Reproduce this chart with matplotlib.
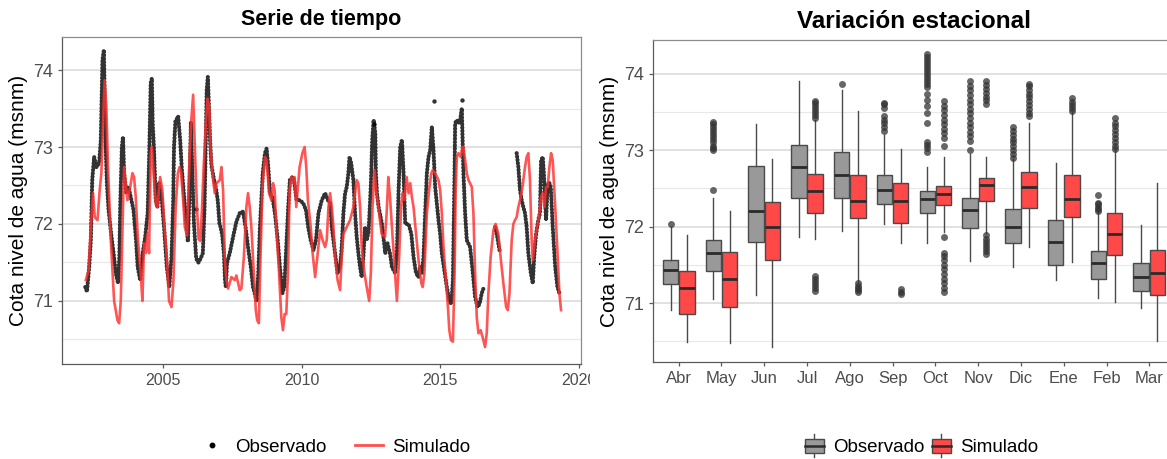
import numpy as np
import matplotlib
matplotlib.use("Agg")
import matplotlib.pyplot as plt
from matplotlib.lines import Line2D
from matplotlib.patches import Rectangle
from matplotlib.legend_handler import HandlerBase

plt.rcParams['font.family'] = ['Liberation Sans', 'DejaVu Sans']

# ---------------- Time series data (decimal years) ----------------
obs_year = [2002.20, 2002.26, 2002.34, 2002.40, 2002.45, 2002.52, 2002.60, 2002.70, 2002.76, 2002.82,
            2002.87, 2002.91, 2002.94, 2002.98, 2003.04, 2003.13, 2003.22, 2003.30, 2003.38, 2003.43,
            2003.46, 2003.52, 2003.56, 2003.60, 2003.68, 2003.76, 2003.84, 2003.94, 2004.03, 2004.09,
            2004.18, 2004.27, 2004.36, 2004.45, 2004.51, 2004.56, 2004.60, 2004.63, 2004.68, 2004.74,
            2004.80, 2004.87, 2004.96, 2005.04, 2005.14, 2005.23, 2005.31, 2005.37, 2005.40, 2005.45,
            2005.55, 2005.62, 2005.68, 2005.80, 2005.90, 2005.95, 2006.01, 2006.06, 2006.12, 2006.20,
            2006.28, 2006.36, 2006.44, 2006.50, 2006.55, 2006.58, 2006.62, 2006.66, 2006.70, 2006.75,
            2006.83, 2006.92, 2006.98, 2007.04, 2007.08, 2007.14, 2007.20, 2007.24, 2007.27, 2007.31,
            2007.41, 2007.53, 2007.65, 2007.77, 2007.89, 2007.98, 2008.07, 2008.17, 2008.25, 2008.38,
            2008.44, 2008.50, 2008.60, 2008.68, 2008.74, 2008.80, 2008.86, 2008.95, 2009.04, 2009.13,
            2009.22, 2009.31, 2009.38, 2009.46, 2009.52, 2009.58, 2009.67, 2009.73, 2009.82, 2009.94,
            2010.06, 2010.16, 2010.24, 2010.33, 2010.43, 2010.52, 2010.61, 2010.73, 2010.85, 2010.95,
            2011.03, 2011.09, 2011.21, 2011.30, 2011.39, 2011.45, 2011.51, 2011.57, 2011.63, 2011.69,
            2011.73, 2011.79, 2011.87, 2011.93, 2011.99, 2012.05, 2012.11, 2012.17, 2012.23, 2012.29,
            2012.35, 2012.42, 2012.50, 2012.55, 2012.60, 2012.66, 2012.68, 2012.72, 2012.78, 2012.90,
            2013.02, 2013.10, 2013.20, 2013.26, 2013.38, 2013.44, 2013.50, 2013.56, 2013.62, 2013.68,
            2013.74, 2013.86, 2013.96, 2014.04, 2014.13, 2014.22, 2014.28, 2014.34, 2014.40, 2014.46,
            2014.52, 2014.58, 2014.64, 2014.70, 2014.76, 2014.82, 2014.94, 2015.00, 2015.06, 2015.15,
            2015.24, 2015.33, 2015.40, 2015.46, 2015.52, 2015.54, 2015.60, 2015.66, 2015.72, 2015.78,
            2015.84, 2015.90, 2015.96, 2016.08, 2016.18, 2016.26, 2016.35, 2016.42, 2016.50, 2016.58,
            2016.70,
            2016.98, 2017.05, 2017.16,
            2017.40,
            2017.76, 2017.82, 2017.88, 2017.94, 2018.00, 2018.06, 2018.12, 2018.18, 2018.27, 2018.34,
            2018.39, 2018.46, 2018.54, 2018.60, 2018.64, 2018.70, 2018.74, 2018.82, 2018.88, 2018.94,
            2018.99, 2019.06, 2019.15, 2019.23, 2019.30]
obs_val = [71.18, 71.12, 71.44, 71.79, 72.57, 72.87, 72.74, 72.79, 73.09, 74.13,
           74.26, 73.40, 72.95, 72.53, 72.18, 71.88, 71.62, 71.36, 71.23, 71.57,
           72.22, 73.00, 73.13, 72.66, 72.40, 72.48, 72.35, 72.18, 71.79, 71.44,
           71.27, 71.62, 71.83, 72.14, 72.96, 73.83, 73.89, 73.31, 72.96, 72.31,
           72.22, 72.53, 72.31, 71.96, 71.44, 71.18, 71.57, 72.27, 73.00, 73.33,
           73.40, 73.10, 72.72, 72.20, 71.77, 72.30, 73.33, 72.70, 72.00, 71.55,
           71.50, 71.55, 71.62, 72.20, 73.20, 73.74, 73.91, 73.52, 73.09, 72.76,
           72.60, 72.45, 72.30, 72.00, 71.96, 71.85, 71.62, 71.27, 71.18, 71.49,
           71.62, 71.83, 72.03, 72.14, 72.16, 71.96, 71.70, 71.44, 71.18, 71.00,
           71.36, 71.96, 72.66, 72.92, 72.98, 72.74, 72.40, 72.35, 72.14, 71.83,
           71.44, 71.10, 71.18, 71.79, 72.22, 72.57, 72.61, 72.57, 72.31, 72.31,
           72.27, 72.18, 71.96, 71.79, 71.66, 71.79, 72.14, 72.31, 72.40, 72.31,
           72.27, 71.96, 71.62, 71.36, 71.44, 71.70, 72.14, 72.40, 72.48, 72.66,
           72.87, 72.79, 72.57, 72.14, 71.83, 71.62, 71.44, 71.31, 71.57, 71.96,
           71.79, 71.90, 72.50, 73.09, 73.35, 73.18, 72.66, 72.40, 72.22, 72.00,
           71.62, 71.75, 71.60, 71.44, 71.36, 71.62, 72.44, 73.00, 73.09, 72.66,
           72.00, 72.00, 71.87, 71.57, 71.36, 71.31, 71.44, 71.36, 71.57, 72.14,
           72.66, 72.87, 72.96, 73.26, 72.96, 72.48, 72.05, 71.87, 71.62, 71.40,
           71.18, 71.00, 70.96, 71.27, 72.66, 73.31, 73.35, 73.31, 73.35, 73.50,
           72.66, 72.14, 71.79, 71.70, 71.36, 71.05, 70.92, 70.96, 71.10, 71.18,
           np.nan,
           71.96, 71.85, 71.62,
           np.nan,
           72.92, 72.74, 72.44, 72.31, 72.22, 72.14, 71.96, 71.62, 71.36, 71.23,
           71.57, 71.87, 72.05, 72.14, 72.83, 72.87, 72.66, 72.05, 72.53, 72.53,
           72.48, 71.96, 71.44, 71.18, 71.10]

# isolated observed readings
obs_extra_year = [2014.78, 2015.80, 2006.20, 2012.62]
obs_extra_val = [73.60, 73.61, 72.20, 73.30]

sim_year = [2002.22, 2002.32, 2002.40, 2002.48, 2002.54, 2002.64, 2002.72, 2002.78, 2002.86, 2002.90,
            2002.96, 2003.02, 2003.12, 2003.24, 2003.36, 2003.42, 2003.48, 2003.56, 2003.60, 2003.66,
            2003.72, 2003.82, 2003.90, 2003.96, 2004.02, 2004.10, 2004.20, 2004.26, 2004.32, 2004.38,
            2004.44, 2004.50, 2004.56, 2004.60, 2004.68, 2004.74, 2004.80, 2004.90, 2004.98, 2005.04,
            2005.14, 2005.22, 2005.31, 2005.38, 2005.46, 2005.54, 2005.60, 2005.66, 2005.73, 2005.79,
            2005.87, 2005.96, 2006.02, 2006.09, 2006.16, 2006.23, 2006.29, 2006.35, 2006.41, 2006.47,
            2006.55, 2006.61, 2006.67, 2006.72, 2006.81, 2006.87, 2006.93, 2007.05, 2007.11, 2007.17,
            2007.23, 2007.29, 2007.35, 2007.47, 2007.59, 2007.65, 2007.77, 2007.83, 2007.92, 2008.01,
            2008.07, 2008.13, 2008.19, 2008.28, 2008.35, 2008.40, 2008.46, 2008.52, 2008.59, 2008.68,
            2008.74, 2008.83, 2008.91, 2008.97, 2009.03, 2009.09, 2009.19, 2009.27, 2009.33, 2009.39,
            2009.45, 2009.51, 2009.57, 2009.63, 2009.69, 2009.75, 2009.81, 2009.93, 2010.03, 2010.11,
            2010.17, 2010.23, 2010.33, 2010.40, 2010.49, 2010.57, 2010.67, 2010.76, 2010.85, 2010.91,
            2010.97, 2011.03, 2011.09, 2011.15, 2011.21, 2011.30, 2011.39, 2011.45, 2011.51, 2011.63,
            2011.75, 2011.87, 2011.99, 2012.05, 2012.11, 2012.17, 2012.27, 2012.35, 2012.44, 2012.50,
            2012.56, 2012.63, 2012.69, 2012.77, 2012.89, 2013.01, 2013.07, 2013.13, 2013.19, 2013.26,
            2013.34, 2013.44, 2013.52, 2013.59, 2013.64, 2013.71, 2013.79, 2013.86, 2013.92, 2013.98,
            2014.04, 2014.13, 2014.22, 2014.32, 2014.37, 2014.43, 2014.52, 2014.60, 2014.68, 2014.73,
            2014.82, 2014.94, 2015.00, 2015.06, 2015.12, 2015.21, 2015.28, 2015.33, 2015.39, 2015.46,
            2015.52, 2015.56, 2015.60, 2015.66, 2015.74, 2015.80, 2015.84, 2015.90, 2015.96, 2016.02,
            2016.08, 2016.14, 2016.20, 2016.26, 2016.32, 2016.38, 2016.46, 2016.53, 2016.62, 2016.68,
            2016.74, 2016.82, 2016.92, 2017.00, 2017.10, 2017.18, 2017.28, 2017.38, 2017.44, 2017.50,
            2017.58, 2017.64, 2017.70, 2017.76, 2017.82, 2017.88, 2017.97, 2018.06, 2018.12, 2018.18,
            2018.24, 2018.30, 2018.34, 2018.42, 2018.50, 2018.56, 2018.64, 2018.70, 2018.76, 2018.82,
            2018.88, 2018.94, 2019.00, 2019.06, 2019.15, 2019.24, 2019.30, 2019.36]
sim_val = [71.27, 71.40, 71.96, 72.40, 72.09, 72.05, 72.44, 72.66, 73.52, 73.87,
           73.52, 72.74, 71.79, 71.00, 70.75, 70.71, 71.00, 72.22, 72.74, 72.53,
           72.31, 72.48, 72.66, 72.61, 72.35, 71.79, 71.36, 71.00, 71.75, 71.62,
           71.87, 71.62, 72.92, 73.00, 72.57, 72.27, 72.22, 72.61, 72.44, 72.05,
           71.57, 71.00, 70.92, 71.27, 72.22, 72.66, 72.74, 72.66, 72.31, 71.96,
           71.85, 72.87, 73.33, 73.68, 72.90, 72.20, 71.80, 71.78, 72.20, 72.74,
           73.31, 73.63, 73.52, 72.96, 72.57, 72.40, 72.53, 72.57, 72.74, 72.44,
           71.57, 71.27, 71.16, 71.31, 71.27, 71.33, 71.14, 71.16, 71.57, 72.22,
           72.40, 72.22, 71.96, 71.36, 70.88, 70.75, 70.71, 71.57, 72.48, 72.87,
           72.83, 72.40, 72.31, 72.53, 72.44, 71.96, 71.36, 70.79, 70.62, 70.83,
           70.83, 71.36, 72.44, 72.61, 72.53, 72.61, 72.22, 72.74, 72.92, 73.00,
           72.74, 72.31, 71.96, 71.62, 71.31, 71.57, 71.92, 71.79, 71.70, 71.79,
           72.22, 72.40, 72.22, 71.96, 71.57, 71.27, 71.14, 71.57, 71.87, 71.96,
           72.05, 72.22, 72.57, 72.53, 72.22, 71.70, 71.36, 71.18, 71.00, 71.36,
           72.22, 72.70, 72.44, 72.22, 71.87, 71.83, 72.14, 72.61, 72.35, 71.96,
           71.53, 71.00, 71.57, 72.22, 72.40, 72.31, 72.61, 72.40, 72.53, 72.35,
           72.22, 71.87, 71.53, 71.23, 71.18, 71.36, 72.14, 72.44, 72.66, 72.70,
           72.66, 72.57, 72.44, 72.14, 71.70, 71.27, 70.92, 70.62, 70.49, 70.47,
           71.36, 72.44, 72.87, 72.92, 72.87, 73.00, 73.00, 72.83, 72.66, 72.57,
           72.53, 72.48, 72.14, 71.36, 70.79, 70.58, 70.62, 70.53, 70.40, 70.58,
           71.10, 71.57, 71.92, 72.00, 71.87, 71.57, 71.23, 70.92, 70.88, 71.10,
           71.79, 72.00, 72.05, 72.09, 72.22, 72.31, 72.48, 72.74, 72.87, 72.92,
           72.57, 71.79, 71.53, 71.79, 71.96, 72.09, 72.35, 72.40, 72.22, 72.48,
           72.48, 72.74, 72.92, 72.83, 72.22, 71.57, 71.10, 70.88]

year_ticks = [2005, 2010, 2015, 2020]
level_ticks = [71, 72, 73, 74]

# ---------------- Seasonal boxplot data ----------------
months = ["Abr", "May", "Jun", "Jul", "Ago", "Sep", "Oct", "Nov", "Dic", "Ene", "Feb", "Mar"]

obs_whislo = [70.91, 71.05, 71.10, 71.86, 71.94, 72.03, 71.78, 71.55, 71.47, 71.30, 71.07, 70.94]
obs_q1     = [71.25, 71.42, 71.80, 72.38, 72.38, 72.30, 72.18, 71.98, 71.78, 71.50, 71.32, 71.16]
obs_med    = [71.43, 71.66, 72.20, 72.78, 72.68, 72.48, 72.36, 72.22, 71.99, 71.80, 71.52, 71.34]
obs_q3     = [71.57, 71.82, 72.79, 73.07, 72.97, 72.67, 72.46, 72.38, 72.23, 72.09, 71.68, 71.53]
obs_whishi = [72.00, 72.38, 73.34, 73.90, 73.79, 73.20, 72.78, 72.95, 72.88, 72.83, 72.20, 72.02]
obs_fliers = [
    [72.03],
    [72.48, 73.00, 73.03, 73.06, 73.10, 73.14, 73.18, 73.22, 73.26, 73.30, 73.34, 73.37],
    [],
    [],
    [73.87],
    [73.25, 73.30, 73.35, 73.40, 73.45, 73.55, 73.60, 73.62],
    [72.98, 73.03, 73.07, 73.10, 73.36, 73.48, 73.58, 73.66, 73.74, 73.82, 73.86, 73.90, 73.94,
     73.98, 74.02, 74.06, 74.10, 74.14, 74.18, 74.22, 74.26],
    [73.00, 73.12, 73.18, 73.24, 73.30, 73.36, 73.42, 73.48, 73.54, 73.60, 73.66, 73.72, 73.78,
     73.84, 73.90],
    [72.90, 72.95, 73.00, 73.05, 73.10, 73.15, 73.20, 73.25, 73.30],
    [],
    [72.20, 72.23, 72.26, 72.29, 72.31, 72.41],
    [],
]

sim_whislo = [70.49, 70.48, 70.42, 71.84, 71.27, 71.79, 71.93, 71.92, 71.73, 71.54, 71.01, 70.50]
sim_q1     = [70.86, 70.95, 71.56, 72.18, 72.11, 72.05, 72.28, 72.33, 72.25, 72.13, 71.63, 71.10]
sim_med    = [71.20, 71.31, 72.00, 72.47, 72.33, 72.33, 72.42, 72.54, 72.52, 72.36, 71.91, 71.39]
sim_q3     = [71.42, 71.67, 72.32, 72.69, 72.68, 72.57, 72.53, 72.64, 72.71, 72.67, 72.18, 71.69]
sim_whishi = [71.89, 72.20, 72.89, 73.40, 73.51, 73.02, 72.91, 72.91, 73.36, 73.50, 73.00, 72.57]
sim_fliers = [
    [],
    [],
    [],
    [71.16, 71.20, 71.24, 71.28, 71.32, 71.35, 73.42, 73.46, 73.50, 73.54, 73.58, 73.62, 73.64],
    [71.14, 71.17, 71.20, 71.23, 71.26],
    [71.12, 71.15, 71.18],
    [71.14, 71.20, 71.26, 71.32, 71.38, 71.44, 71.50, 71.56, 71.62, 71.66, 71.86, 73.06, 73.16,
     73.22, 73.28, 73.34, 73.40, 73.46, 73.52, 73.58, 73.64],
    [71.64, 71.68, 71.72, 71.76, 71.80, 71.84, 71.89, 73.60, 73.65, 73.70, 73.75, 73.80, 73.85,
     73.90],
    [73.44, 73.49, 73.54, 73.59, 73.64, 73.69, 73.74, 73.79, 73.84, 73.86],
    [73.51, 73.55, 73.59, 73.63, 73.68],
    [73.01, 73.06, 73.11, 73.16, 73.21, 73.26, 73.31, 73.36, 73.42],
    [],
]

# ---------------- Styling ----------------
TICK_COL = '#4D4D4D'
GRID_MAJ = '#D9D9D9'
GRID_MIN = '#E8E8E8'
OBS_FILL = '#999999'
SIM_FILL = '#FF4848'
SIM_LINE = '#FF3030'

W, H = 1167, 459
fig = plt.figure(figsize=(W / 100, H / 100), dpi=100)


def frac_axes(l, t, r, b):
    return fig.add_axes([l / W, 1 - b / H, (r - l) / W, (b - t) / H])


def style_axes(ax):
    ax.set_facecolor('white')
    for s in ['left', 'bottom']:
        ax.spines[s].set_color('#5A5A5A')
        ax.spines[s].set_linewidth(0.9)
    for s in ['top', 'right']:
        ax.spines[s].set_color('#8C8C8C')
        ax.spines[s].set_linewidth(0.9)
    ax.set_yticks(level_ticks)
    ax.set_yticks([70.5, 71.5, 72.5, 73.5], minor=True)
    ax.yaxis.grid(True, which='major', color=GRID_MAJ, lw=1.1)
    ax.yaxis.grid(True, which='minor', color=GRID_MIN, lw=0.8)
    ax.xaxis.grid(False)
    ax.set_axisbelow(True)
    ax.tick_params(axis='both', which='major', colors='#5A5A5A', labelcolor=TICK_COL,
                   labelsize=11.5, length=3.2, width=0.9, pad=3)
    ax.tick_params(axis='y', which='minor', length=0)
    ax.tick_params(axis='y', labelsize=13)
    ax.set_ylabel("Cota nivel de agua (msnm)", fontsize=15, color='black', labelpad=4)


# ---- left panel: time series ----
ax1 = frac_axes(62, 37, 581, 364)
style_axes(ax1)
ax1.plot(obs_year, obs_val, color='black', lw=3.0, alpha=0.8,
         linestyle=(0, (0.05, 0.75)), dash_capstyle='round', solid_capstyle='round', zorder=2)
ax1.scatter(obs_extra_year, obs_extra_val, s=10, color='black', alpha=0.8, lw=0, zorder=2)
ax1.plot(sim_year, sim_val, color=SIM_LINE, lw=1.9, alpha=0.82, zorder=3)
ax1.set_xlim(2001.36, 2020.08)
ax1.set_ylim(70.18, 74.43)
ax1.set_xticks(year_ticks)
ax1.set_xticklabels([str(y) for y in year_ticks])
ax1.set_title("Serie de tiempo", fontsize=15.5, fontweight='bold', pad=9)

# ---- right panel: boxplots ----
ax2 = frac_axes(653, 40, 1175, 362)
style_axes(ax2)
pos = np.arange(1, len(months) + 1)
off = 0.19
bw = 0.36


def make_stats(lo, q1, med, q3, hi, fl):
    return [dict(whislo=a, q1=b, med=c, q3=d, whishi=e, fliers=f)
            for a, b, c, d, e, f in zip(lo, q1, med, q3, hi, fl)]


common = dict(widths=bw, patch_artist=True, showcaps=False, manage_ticks=False,
              medianprops=dict(color='#2B2B2B', lw=2.0),
              whiskerprops=dict(color='#4A4A4A', lw=1.0),
              flierprops=dict(marker='o', markersize=5, markerfacecolor='#333333',
                              markeredgecolor='none', alpha=0.75))
b1 = ax2.bxp(make_stats(obs_whislo, obs_q1, obs_med, obs_q3, obs_whishi, obs_fliers),
             positions=pos - off, boxprops=dict(facecolor=OBS_FILL, edgecolor='#4A4A4A', lw=1.0),
             **common)
b2 = ax2.bxp(make_stats(sim_whislo, sim_q1, sim_med, sim_q3, sim_whishi, sim_fliers),
             positions=pos + off, boxprops=dict(facecolor=SIM_FILL, edgecolor='#4A4A4A', lw=1.0),
             **common)
ax2.set_xlim(0.4, 12.6)
ax2.set_ylim(70.23, 74.44)
ax2.set_xticks(pos)
ax2.set_xticklabels(months)
ax2.tick_params(axis='x', labelsize=12)
ax2.set_title("Variación estacional", fontsize=17.5, fontweight='bold', pad=9)

# the left panel's last year label is cut at its region edge, as in the original
fig.add_artist(Rectangle((590 / W, 1 - 397 / H), 14 / W, 30 / H, transform=fig.transFigure,
                         facecolor='white', edgecolor='none', zorder=10))

# ---- legends ----
obs_handle = Line2D([], [], marker='o', markersize=3.2, color='black', linestyle='none')
sim_handle = Line2D([], [], color=SIM_LINE, lw=2.0, alpha=0.85)
fig.legend([obs_handle, sim_handle], ["Observado", "Simulado"], loc='center',
           bbox_to_anchor=(334 / W, 1 - 447 / H), ncol=2, frameon=False, fontsize=13.5,
           handlelength=1.5, handletextpad=0.5, columnspacing=1.5)


class BoxHandler(HandlerBase):
    def __init__(self, fill):
        super().__init__()
        self.fill = fill

    def create_artists(self, legend, orig_handle, xdescent, ydescent, width, height,
                       fontsize, trans):
        cx = width / 2 - xdescent
        y0 = -ydescent
        top = y0 + height * 1.25
        bot = y0 - height * 0.25
        wl = Line2D([cx, cx], [bot, top], color='#4A4A4A', lw=1.0, transform=trans)
        r = Rectangle((-xdescent + width * 0.05, y0 + height * 0.05), width * 0.9, height * 0.9,
                      facecolor=self.fill, edgecolor='#4A4A4A', lw=1.0, transform=trans)
        md = Line2D([-xdescent + width * 0.05, -xdescent + width * 0.95],
                    [y0 + height / 2, y0 + height / 2], color='#2B2B2B', lw=1.8, transform=trans)
        return [wl, r, md]


hb1 = Rectangle((0, 0), 1, 1)
hb2 = Rectangle((0, 0), 1, 1)
fig.legend([hb1, hb2], ["Observado", "Simulado"], loc='center',
           bbox_to_anchor=(921 / W, 1 - 447 / H), ncol=2, frameon=False, fontsize=13.5,
           handlelength=1.1, handleheight=0.9, handletextpad=0.45, columnspacing=0.35,
           handler_map={hb1: BoxHandler(OBS_FILL), hb2: BoxHandler(SIM_FILL)})

fig.savefig("out.png", dpi=100, facecolor='white')
